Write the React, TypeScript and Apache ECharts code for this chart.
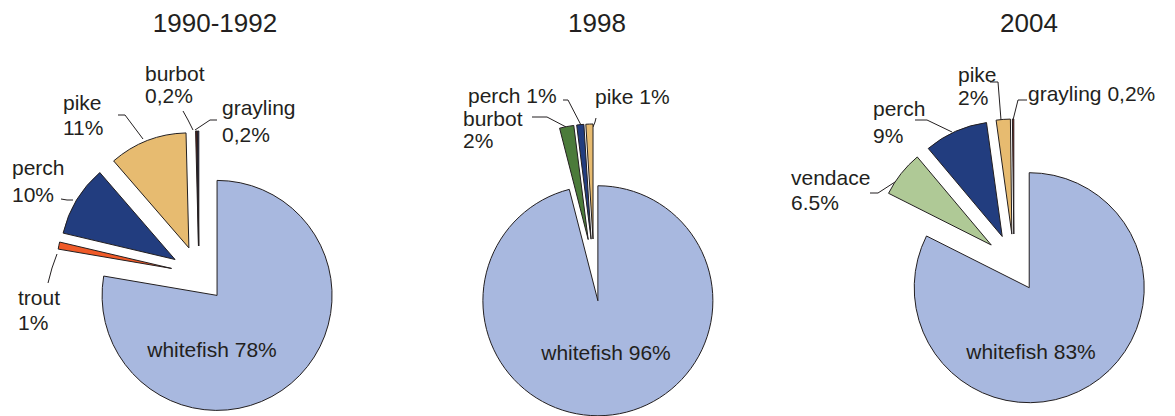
import React, { useEffect, useRef } from 'react';
import * as echarts from 'echarts';

// ---------- data ----------
const titles = ['1990-1992', '1998', '2004'];

const names1990 = ['whitefish', 'trout', 'perch', 'pike', 'burbot', 'grayling'];
const values1990 = [78, 1, 10, 11, 0.2, 0.2];
const labels1990 = ['whitefish 78%', 'trout\n1%', 'perch\n10%', 'pike\n11%', 'burbot\n0,2%', 'grayling\n0,2%'];

const names1998 = ['whitefish', 'burbot', 'perch', 'pike'];
const values1998 = [96, 2, 1, 1];
const labels1998 = ['whitefish 96%', 'burbot\n2%', 'perch 1%', 'pike 1%'];

const names2004 = ['whitefish', 'vendace', 'perch', 'pike', 'grayling'];
const values2004 = [83, 6.5, 9, 2, 0.2];
const labels2004 = ['whitefish 83%', 'vendace\n6.5%', 'perch\n9%', 'pike\n2%', 'grayling 0,2%'];

const colors1990 = ['#a8b8df', '#f05a28', '#223d7f', '#e7bb70', '#6e2418', '#2c3580'];
const colors1998 = ['#a8b8df', '#4b7b3a', '#223d7f', '#e7bb70'];
const colors2004 = ['#a8b8df', '#afc996', '#223d7f', '#e7bb70', '#c0281a'];

// ---------- layout / style ----------
const FONT = '"Liberation Sans", Arial, Helvetica, sans-serif';
const INK = '#231f20';
const RADIUS = 115;

const PIES = [
  { center: [199, 274], offset: 28, titleX: 215 },
  { center: [594, 270], offset: 31, titleX: 597 },
  { center: [1014, 263], offset: 29, titleX: 1029 },
];

type Place = { x: number; y: number; align?: string; va?: string; lh?: number; line?: number[][] };

const PLACES: Place[][] = [
  [
    { x: 212, y: 349, align: 'center', va: 'middle' },
    { x: 18, y: 285, lh: 25, line: [[57, 254], [52, 268], [48, 283]] },
    { x: 12, y: 154, lh: 27, line: [[73, 200], [67, 200], [61, 199]] },
    { x: 63, y: 90, lh: 25, line: [[143, 139], [125, 115], [118, 115]] },
    { x: 145, y: 62, lh: 22, line: [[193, 130], [188, 120], [183, 111]] },
    { x: 222, y: 94, lh: 27, line: [[195, 130], [210, 120], [217, 120]] },
  ],
  [
    { x: 606, y: 352, align: 'center', va: 'middle' },
    { x: 463, y: 107, lh: 22, line: [[568, 128], [547, 117], [532, 117]] },
    { x: 468, y: 83, lh: 24, line: [[582, 127], [568, 100], [563, 100]] },
    { x: 595, y: 84, lh: 24, line: [[593, 127], [595, 122], [596, 118]] },
  ],
  [
    { x: 1031, y: 351, align: 'center', va: 'middle' },
    { x: 791, y: 165, lh: 25, line: [[895, 182], [878, 193], [870, 193]] },
    { x: 873, y: 95, lh: 27, line: [[952, 132], [927, 120], [915, 120]] },
    { x: 958, y: 63, lh: 23, line: [[1001, 120], [998, 82], [990, 82]] },
    { x: 1028, y: 81, lh: 24, line: [[1013, 120], [1018, 100], [1027, 100]] },
  ],
];

function buildSeries(i: number, names: string[], values: number[], colors: string[], labels: string[]) {
  const p = PIES[i];
  const visible = {
    type: 'pie',
    center: p.center,
    radius: RADIUS,
    startAngle: 90,
    clockwise: true,
    selectedMode: 'multiple',
    selectedOffset: p.offset,
    silent: true,
    avoidLabelOverlap: false,
    label: { show: false },
    labelLine: { show: false },
    itemStyle: { borderColor: INK, borderWidth: 1 },
    select: { itemStyle: { borderColor: INK, borderWidth: 1 } },
    emphasis: { disabled: true },
    data: names.map((n, k) => ({
      name: n,
      value: values[k],
      selected: true,
      itemStyle: { color: colors[k] },
      select: { itemStyle: { color: colors[k], borderColor: INK, borderWidth: 1 } },
    })),
  };
  const labelSeries = {
    type: 'pie',
    center: p.center,
    radius: RADIUS,
    startAngle: 90,
    clockwise: true,
    silent: true,
    avoidLabelOverlap: false,
    emphasis: { disabled: true },
    itemStyle: { color: 'rgba(0,0,0,0)', borderWidth: 0 },
    label: {
      show: true,
      position: 'outside',
      overflow: 'none',
      color: INK,
      fontFamily: FONT,
      fontSize: 21,
    },
    labelLine: { show: true, length: 10, length2: 10, lineStyle: { color: INK, width: 1 } },
    labelLayout: (prm: any) => {
      const pl = PLACES[i][prm.dataIndex];
      if (!pl) return {};
      const out: any = {
        x: pl.x,
        y: pl.y,
        align: pl.align || 'left',
        verticalAlign: pl.va || 'top',
      };
      if (pl.line) out.labelLinePoints = pl.line;
      return out;
    },
    data: names.map((n, k) => ({
      name: n,
      value: values[k],
      label: { formatter: labels[k], lineHeight: PLACES[i][k].lh || 24 },
      labelLine: { show: k !== 0 },
    })),
  };
  return [visible, labelSeries];
}

export default function App() {
  const ref = useRef<HTMLDivElement>(null);
  useEffect(() => {
    if (!ref.current) return;
    const chart = echarts.init(ref.current, undefined, { renderer: 'svg' });
    const option: any = {
      animation: false,
      backgroundColor: '#ffffff',
      graphic: titles.map((t, i) => ({
        type: 'text',
        x: PIES[i].titleX,
        y: 23,
        silent: true,
        style: {
          text: t,
          fontSize: 26,
          fontFamily: FONT,
          fill: INK,
          align: 'center',
          verticalAlign: 'middle',
        },
      })),
      series: [
        ...buildSeries(0, names1990, values1990, colors1990, labels1990),
        ...buildSeries(1, names1998, values1998, colors1998, labels1998),
        ...buildSeries(2, names2004, values2004, colors2004, labels2004),
      ],
    };
    chart.setOption(option);
    return () => chart.dispose();
  }, []);
  return (
    <div
      ref={ref}
      style={{ position: 'absolute', left: 0, top: 0, width: 1175, height: 416, background: '#fff' }}
    />
  );
}
